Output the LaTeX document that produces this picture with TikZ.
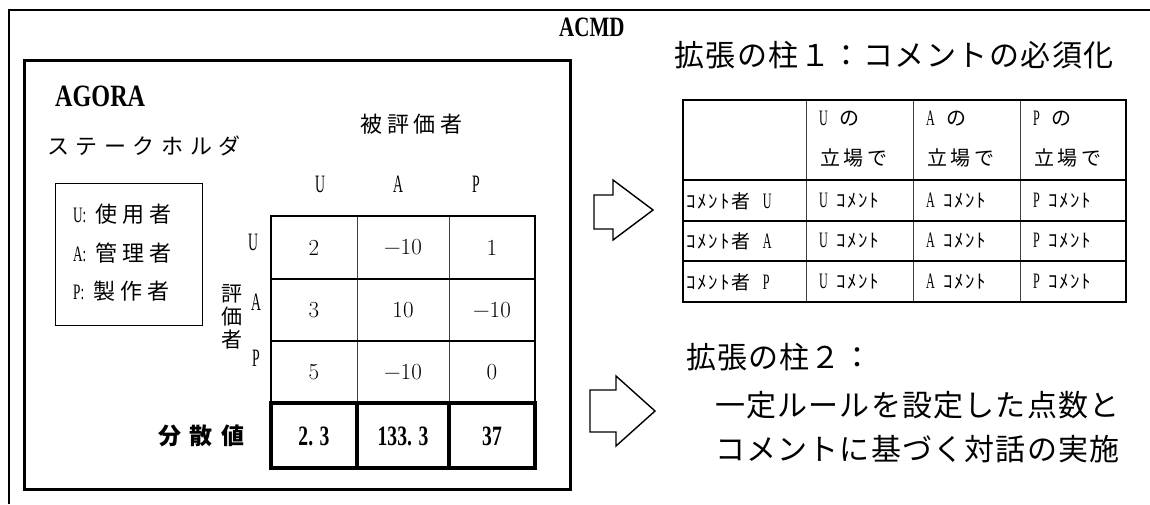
\documentclass[tikz,border=0pt]{standalone}
\usepackage{fontspec}
\usepackage{graphicx}
\newfontfamily\jp{Noto Sans CJK JP}
\newfontfamily\ser{Liberation Serif}
\newcommand\js[3]{{\fontsize{#1}{#1}\selectfont\jp\addfontfeatures{LetterSpace=#2}#3}}
\newcommand\jsb[3]{{\fontsize{#1}{#1}\selectfont\jp\bfseries\addfontfeatures{LetterSpace=#2}#3}}
\newcommand\nr[3]{{\fontsize{#1}{#1}\selectfont\ser\scalebox{#2}[1]{#3}}}
\newcommand\nrb[3]{{\fontsize{#1}{#1}\selectfont\ser\bfseries\scalebox{#2}[1]{#3}}}
\newcommand\num[1]{{\fontsize{23}{23}\selectfont #1}}
\begin{document}
\begin{tikzpicture}[x=1pt,y=-1pt,
  txt/.style={anchor=west,inner sep=0pt},
  ctr/.style={anchor=center,inner sep=0pt},
  frame/.style={line width=2.8pt},
  grid thin/.style={line width=1pt,black!75},
  grid mid/.style={line width=2.2pt},
  grid bold/.style={line width=4pt},
  blockarrow/.style={line width=1.4pt,line join=miter}]
\useasboundingbox (0,0) rectangle (1150,504);
\fill[white] (0,0) rectangle (1150,504);
% ACMD frame (open to the right and bottom)
\draw[frame] (9,504) -- (9,10) -- (1150,10);
\node[txt] (acmd) at (559,27) {\nrb{28}{0.75}{ACMD}};
% AGORA box
\node[draw,frame,anchor=north west,minimum width=546,minimum height=429,inner sep=0pt] (agorabox) at (23,59) {};
\node[txt] (agora) at (55,96) {\nrb{31}{0.78}{AGORA}};
\node[txt] (hyo) at (360,124) {\js{22}{22}{被評価者}};
\node[txt] (stake) at (47,146) {\js{22}{30}{ステークホルダ}};
% legend
\node[draw,line width=1.3pt,anchor=north west,minimum width=147,minimum height=142,inner sep=0pt] (legend) at (55,183) {};
\node[txt] (lu) at (73,214) {\nr{22}{0.6}{U:}\hspace{9pt}\js{22}{24}{使用者}};
\node[txt] (la) at (73,253) {\nr{22}{0.6}{A:}\hspace{9pt}\js{22}{24}{管理者}};
\node[txt] (lp) at (73,291) {\nr{22}{0.6}{P:}\hspace{9pt}\js{22}{24}{製作者}};
% column / row labels
\node[ctr] (hU) at (320,184) {\nr{25}{0.55}{U}};
\node[ctr] (hA) at (398,184) {\nr{25}{0.55}{A}};
\node[ctr] (hP) at (476,184) {\nr{25}{0.55}{P}};
\node[ctr] (rU) at (253,242) {\nr{25}{0.55}{U}};
\node[ctr] (rA) at (256,302) {\nr{25}{0.55}{A}};
\node[ctr] (rP) at (256,358) {\nr{25}{0.55}{P}};
\node[ctr] (v1) at (232,294) {\js{21}{0}{評}};
\node[ctr] (v2) at (232,317) {\js{21}{0}{価}};
\node[ctr] (v3) at (232,340) {\js{21}{0}{者}};
% matrix grid
\draw[grid thin] (357,216) -- (357,403) (449,216) -- (449,403);
\draw[grid mid] (271,279) -- (535,279) (271,341) -- (535,341);
\draw[line width=2pt] (271,403) -- (271,216) -- (535,216) -- (535,403);
\draw[grid bold] (271,403) rectangle (535,468) (357,403) -- (357,468) (449,403) -- (449,468);
% matrix values
\node[ctr] (m11) at (314,247.5) {\num{2}};
\node[ctr] (m12) at (403,247.5) {\num{−10}};
\node[ctr] (m13) at (492,247.5) {\num{1}};
\node[ctr] (m21) at (314,310) {\num{3}};
\node[ctr] (m22) at (403,310) {\num{10}};
\node[ctr] (m23) at (492,310) {\num{−10}};
\node[ctr] (m31) at (314,372) {\num{5}};
\node[ctr] (m32) at (403,372) {\num{−10}};
\node[ctr] (m33) at (492,372) {\num{0}};
\node[txt] (bunsan) at (158,436) {\jsb{23}{38}{分散値}};
\node[ctr] (b1) at (314,436) {\nrb{28}{0.7}{2. 3}};
\node[ctr] (b2) at (403,436) {\nrb{28}{0.7}{133. 3}};
\node[ctr] (b3) at (492,436) {\nrb{28}{0.7}{37}};
% extension 1
\node[txt] (t1) at (674,55) {\js{30}{5}{拡張の柱１：コメントの必須化}};
\draw[blockarrow] (594,195) -- (613,195) -- (613,180) -- (653,210) -- (613,240) -- (613,229) -- (594,229) -- cycle;
% comment table
\draw[grid thin] (806,100) -- (806,302) (913,100) -- (913,302) (1020,100) -- (1020,302);
\draw[grid mid] (683,180) -- (1126,180) (683,221) -- (1126,221) (683,261) -- (1126,261);
\draw[grid mid] (683,100) rectangle (1126,302);
\node[txt] (cU1) at (819,119) {\nr{22}{0.55}{U}\hspace{12pt}\js{20}{0}{の}};
\node[txt] (cA1) at (926,119) {\nr{22}{0.55}{A}\hspace{12pt}\js{20}{0}{の}};
\node[txt] (cP1) at (1033,119) {\nr{22}{0.55}{P}\hspace{12pt}\js{20}{0}{の}};
\node[txt] (cU2) at (820,158) {\js{20}{18}{立場で}};
\node[txt] (cA2) at (927,158) {\js{20}{18}{立場で}};
\node[txt] (cP2) at (1034,158) {\js{20}{18}{立場で}};
\foreach \r/\y in {U/201,A/241,P/282}{
  \node[txt] (rl\r) at (686,\y) {\js{19}{10}{ｺﾒﾝﾄ者}\hspace{12pt}\nr{22}{0.55}{\r}};
  \node[txt] (cu\r) at (819,\y) {\nr{22}{0.55}{U}\hspace{9pt}\js{19}{8}{ｺﾒﾝﾄ}};
  \node[txt] (ca\r) at (926,\y) {\nr{22}{0.55}{A}\hspace{9pt}\js{19}{8}{ｺﾒﾝﾄ}};
  \node[txt] (cp\r) at (1033,\y) {\nr{22}{0.55}{P}\hspace{9pt}\js{19}{8}{ｺﾒﾝﾄ}};
}
% extension 2
\draw[blockarrow] (590,390) -- (616,390) -- (616,376) -- (655,411) -- (616,446) -- (616,432) -- (590,432) -- cycle;
\node[txt] (t2) at (686,357) {\js{30}{4}{拡張の柱２：}};
\node[txt] (t3) at (715,405) {\js{30}{4}{一定ルールを設定した点数と}};
\node[txt] (t4) at (715,449) {\js{30}{4}{コメントに基づく対話の実施}};
\end{tikzpicture}
\end{document}
